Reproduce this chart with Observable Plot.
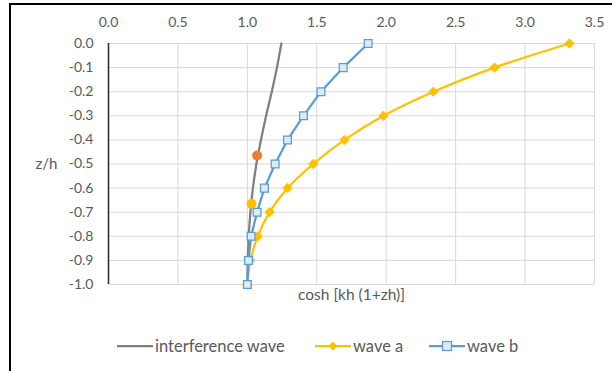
<!DOCTYPE html>
<html>
<head>
<meta charset="utf-8">
<script src="https://cdn.jsdelivr.net/npm/d3@7"></script>
<script src="https://cdn.jsdelivr.net/npm/@observablehq/plot@0.6"></script>
<style>
  html, body { margin: 0; padding: 0; background: #fff; overflow: hidden; }
  #wrap { position: relative; width: 612px; height: 371px; font-family: Lato, "Open Sans", sans-serif; }
  #frame { position: absolute; left: 9px; top: 3px; width: 700px; height: 500px;
           border-left: 2px solid #000; border-top: 2px solid #000; pointer-events: none; }
  #chart { position: absolute; left: 0; top: 0; }
  .leg { position: absolute; top: 336px; height: 20px; display: flex; align-items: center;
         font-size: 16.5px; color: #595959; white-space: nowrap; }
  .leg svg { margin-right: 2px; }
</style>
</head>
<body>
<div id="wrap">
  <div id="chart"></div>
  <div id="frame"></div>
  <div id="legend"></div>
</div>
<script>
// ---- data ----
const zLevels = [0, -0.1, -0.2, -0.3, -0.4, -0.5, -0.6, -0.7, -0.8, -0.9, -1.0];
const interferenceWave = [1.245, 1.213, 1.176, 1.135, 1.098, 1.065, 1.040, 1.022, 1.010, 1.003, 1.0];
const waveA = [3.32, 2.78, 2.34, 1.98, 1.70, 1.474, 1.29, 1.16, 1.075, 1.022, 1.0];
const waveB = [1.87, 1.69, 1.53, 1.404, 1.289, 1.20, 1.123, 1.07, 1.027, 1.008, 1.0];
const markerOrangeX = [1.07], markerOrangeZ = [-0.465];
const markerYellowX = [1.03], markerYellowZ = [-0.665];
const xTicks = [0, 0.5, 1, 1.5, 2, 2.5, 3, 3.5];
const yTicks = [0, -0.1, -0.2, -0.3, -0.4, -0.5, -0.6, -0.7, -0.8, -0.9, -1.0];
const xTitle = "cosh [kh (1+zh)]";
const yTitle = "z/h";
const seriesNames = ["interference wave", "wave a", "wave b"];

// ---- build tables ----
const rows = (xs) => xs.map((x, i) => ({x, z: zLevels[i]}));
const interRows = rows(interferenceWave);
const aRows = rows(waveA);
const bRows = rows(waveB);
const orange = markerOrangeX.map((x, i) => ({x, z: markerOrangeZ[i]}));
const yellow = markerYellowX.map((x, i) => ({x, z: markerYellowZ[i]}));

const GRAY = "#7F7F7F", GOLD = "#FFC000", BLUE = "#5B9BD5", BLUEFILL = "#DDEBF7", ORANGE = "#ED7D31";
const fmt = d => (Math.abs(d) < 1e-9 ? 0 : d).toFixed(1);

const chart = Plot.plot({
  width: 612,
  height: 312,
  marginLeft: 108,
  marginRight: 18,
  marginTop: 43,
  marginBottom: 28,
  style: {fontFamily: "Lato, 'Open Sans', sans-serif", fontSize: "14px", color: "#595959", background: "transparent", overflow: "visible"},
  x: {domain: [0, 3.5]},
  y: {domain: [-1, 0]},
  marks: [
    Plot.gridX(xTicks, {stroke: "#D9D9D9", strokeOpacity: 1, strokeWidth: 1}),
    Plot.gridY(yTicks, {stroke: "#D9D9D9", strokeOpacity: 1, strokeWidth: 1}),
    Plot.axisX(xTicks, {anchor: "top", tickSize: 0, tickPadding: 17, tickFormat: fmt, label: null, fill: "#595959"}),
    Plot.axisY(yTicks, {anchor: "left", tickSize: 0, tickPadding: 15, tickFormat: fmt, label: null, fill: "#595959"}),
    Plot.ruleX([0], {stroke: "#262626", strokeWidth: 1.5}),
    Plot.text([xTitle], {frameAnchor: "bottom", dy: 15, fill: "#595959", fontSize: 15.5}),
    Plot.text([yTitle], {x: 0, y: -0.5, textAnchor: "end", dx: -51, fill: "#595959", fontSize: 15}),
    Plot.line(interRows, {x: "x", y: "z", stroke: GRAY, strokeWidth: 2.25, curve: "catmull-rom"}),
    Plot.dot(orange, {x: "x", y: "z", r: 5, fill: ORANGE}),
    Plot.dot(yellow, {x: "x", y: "z", r: 5, fill: GOLD}),
    Plot.line(aRows, {x: "x", y: "z", stroke: GOLD, strokeWidth: 2.25, curve: "catmull-rom"}),
    Plot.dot(aRows, {x: "x", y: "z", symbol: "diamond2", r: 4.2, fill: GOLD, stroke: GOLD, strokeWidth: 1}),
    Plot.line(bRows, {x: "x", y: "z", stroke: BLUE, strokeWidth: 2.25}),
    Plot.dot(bRows, {x: "x", y: "z", symbol: "square", r: 4.4, fill: BLUEFILL, stroke: BLUE, strokeWidth: 1.25})
  ]
});
document.getElementById("chart").appendChild(chart);

// ---- legend ----
const legend = document.getElementById("legend");
const items = [
  {name: seriesNames[0], color: GRAY, marker: null, left: 117},
  {name: seriesNames[1], color: GOLD, marker: "diamond", left: 315},
  {name: seriesNames[2], color: BLUE, marker: "square", left: 429}
];
for (const it of items) {
  const div = document.createElement("div");
  div.className = "leg";
  div.style.left = it.left + "px";
  let mk = "";
  if (it.marker === "diamond") mk = `<path d="M18,5.5 L22.5,10 L18,14.5 L13.5,10 Z" fill="${GOLD}"/>`;
  if (it.marker === "square") mk = `<rect x="13.5" y="5.5" width="9" height="9" fill="${BLUEFILL}" stroke="${BLUE}" stroke-width="1.25"/>`;
  div.innerHTML = `<svg width="36" height="20"><line x1="0" x2="36" y1="10" y2="10" stroke="${it.color}" stroke-width="2.25"/>${mk}</svg><span>${it.name}</span>`;
  legend.appendChild(div);
}
</script>
</body>
</html>
